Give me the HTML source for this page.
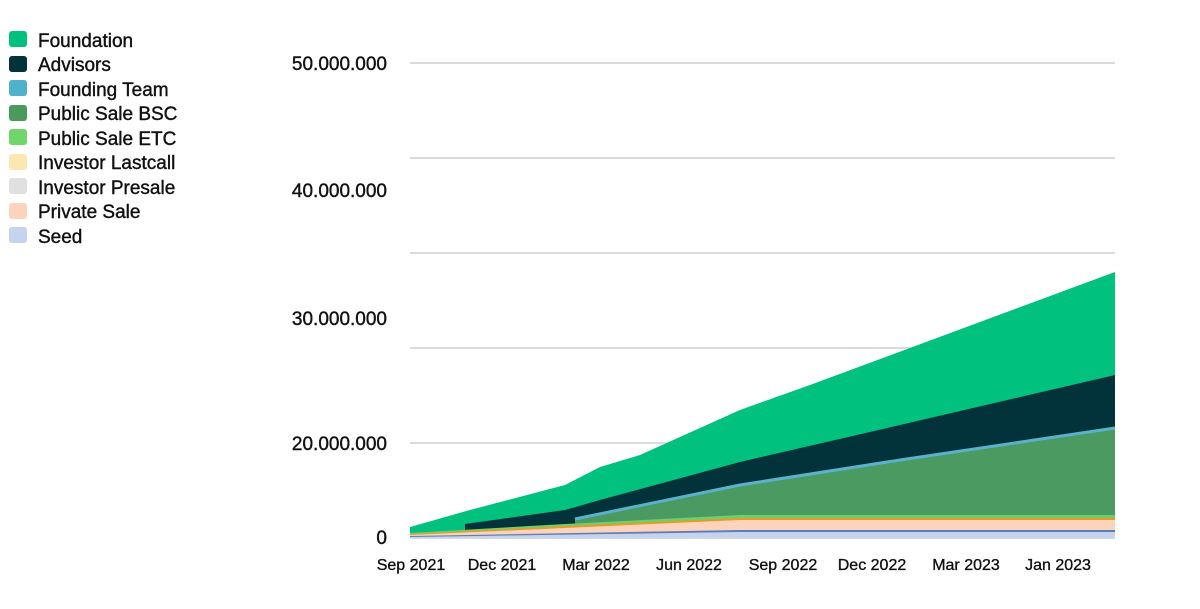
<!DOCTYPE html>
<html><head><style>
body{margin:0;background:#fff;width:1200px;height:604px;overflow:hidden;font-family:"Liberation Sans",sans-serif}
</style></head><body>
<svg width="1200" height="604" xmlns="http://www.w3.org/2000/svg" font-family="Liberation Sans, sans-serif">
<g stroke="#cfcfcf" stroke-width="1.5">
<line x1="410" y1="63" x2="1115" y2="63"/><line x1="410" y1="158" x2="1115" y2="158"/>
<line x1="410" y1="253" x2="1115" y2="253"/><line x1="410" y1="348" x2="1115" y2="348"/>
<line x1="410" y1="443" x2="1115" y2="443"/><line x1="410" y1="538" x2="1115" y2="538"/>
</g>
<g font-size="19" fill="#111" stroke="#111" stroke-width="0.4" text-anchor="end">
<text x="387" y="70">50.000.000</text><text x="387" y="197">40.000.000</text>
<text x="387" y="325">30.000.000</text><text x="387" y="450">20.000.000</text>
<text x="387" y="544">0</text>
</g>
<path d="M410 527 L470 510 L565 485 L600 467 L640 455 L740 410 L810 385 L1115 272 L1115 537 L410 537Z" fill="#00c17e"/>
<path d="M465 524 L565 510 L600 500 L740 462 L900 425 L1115 375 L1115 537 L465 537Z" fill="#02333b"/>
<path d="M575 519 L740 485 L900 460 L1115 428 L1115 537 L575 537Z" fill="#4a9a62"/>
<path d="M575 519 L740 485 L900 460 L1115 428" fill="none" stroke="#5bb2cc" stroke-width="3"/>
<path d="M410 533 L565 524 L740 515 L1115 515 L1115 537 L410 537Z" fill="#6fcf6a"/>
<path d="M410 534 L565 526 L740 518 L1115 518 L1115 537 L410 537Z" fill="#e79a2a"/>
<path d="M410 535 L565 528 L740 520 L1115 520 L1115 537 L410 537Z" fill="#fcd3bd"/>
<path d="M410 536 L740 530 L1115 530 L1115 537 L410 537Z" fill="#5d7fb6"/>
<path d="M410 537 L740 532 L1115 532 L1115 538 L410 538Z" fill="#c5d3ef"/>
<g font-size="16" fill="#111" stroke="#111" stroke-width="0.35" text-anchor="middle">
<text x="411" y="570">Sep 2021</text><text x="502" y="570">Dec 2021</text>
<text x="596" y="570">Mar 2022</text><text x="689" y="570">Jun 2022</text>
<text x="783" y="570">Sep 2022</text><text x="872" y="570">Dec 2022</text>
<text x="966" y="570">Mar 2023</text><text x="1058" y="570">Jan 2023</text>
</g>
<g font-size="19" fill="#111">
<rect x="9" y="31" width="18" height="16" rx="3" fill="#00c17e"/>
<rect x="9" y="56" width="18" height="16" rx="3" fill="#02333b"/>
<rect x="9" y="80" width="18" height="16" rx="3" fill="#4fb1cb"/>
<rect x="9" y="105" width="18" height="16" rx="3" fill="#4a9a5c"/>
<rect x="9" y="129" width="18" height="16" rx="3" fill="#6fd66a"/>
<rect x="9" y="154" width="18" height="16" rx="3" fill="#fde7b0"/>
<rect x="9" y="178" width="18" height="16" rx="3" fill="#e0e0e0"/>
<rect x="9" y="203" width="18" height="16" rx="3" fill="#fcd3bd"/>
<rect x="9" y="227" width="18" height="16" rx="3" fill="#c5d3ef"/>
<g stroke="#111" stroke-width="0.4">
<text x="38" y="47">Foundation</text><text x="38" y="71">Advisors</text>
<text x="38" y="96">Founding Team</text><text x="38" y="120">Public Sale BSC</text>
<text x="38" y="145">Public Sale ETC</text><text x="38" y="169">Investor Lastcall</text>
<text x="38" y="194">Investor Presale</text><text x="38" y="218">Private Sale</text>
<text x="38" y="243">Seed</text>
</g>
</g>
</svg>
</body></html>
